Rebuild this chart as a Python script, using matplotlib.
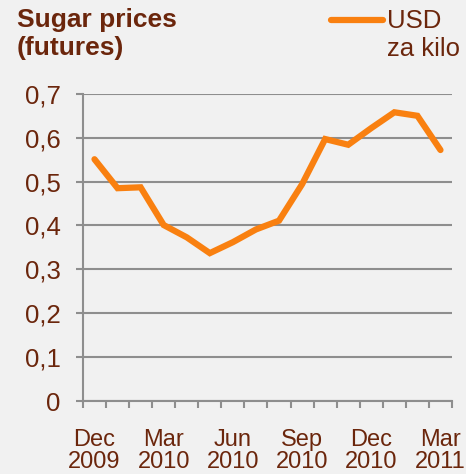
import numpy as np
import matplotlib
matplotlib.use("Agg")
import matplotlib.pyplot as plt
from matplotlib.ticker import FixedLocator, FuncFormatter

# monthly sugar futures, USD per kilo, Dec 2009 .. Mar 2011
months = ["Dec\n2009", "Jan", "Feb", "Mar\n2010", "Apr", "May", "Jun\n2010", "Jul",
          "Aug", "Sep\n2010", "Oct", "Nov", "Dec\n2010", "Jan", "Feb", "Mar\n2011"]
prices = [0.551, 0.485, 0.487, 0.401, 0.373, 0.337, 0.362, 0.391,
          0.411, 0.494, 0.597, 0.584, 0.622, 0.658, 0.650, 0.572]
y_ticks = [0, 0.1, 0.2, 0.3, 0.4, 0.5, 0.6, 0.7]

txt = "#6B260C"
grey = "#8E8E8E"
orange = "#F98010"

plt.rcParams["font.family"] = ["Liberation Sans", "DejaVu Sans"]

fig = plt.figure(figsize=(4.66, 4.74), dpi=100)
fig.patch.set_facecolor("#F1F1F1")
ax = fig.add_axes([0.178, 0.154, 0.792, 0.648])
ax.set_facecolor("none")

x = np.arange(len(prices))
ax.plot(x, prices, color=orange, lw=4.5, solid_joinstyle="miter", solid_capstyle="round",
        zorder=3, label="USD\nza kilo")

ax.set_xlim(-0.5, len(prices) - 0.5)
ax.set_ylim(0, 0.7)

ax.set_yticks(y_ticks)
ax.yaxis.set_major_formatter(FuncFormatter(lambda v, p: "0" if v == 0 else ("%.1f" % v).replace(".", ",")))
ax.grid(axis="y", color=grey, lw=1.5, zorder=1)
ax.tick_params(axis="y", length=5, width=1.5, color=grey, labelcolor=txt, labelsize=18.5, pad=11)

# x labels every 3 months, tick marks at category edges
lab_pos = [i for i in x if "\n" in months[i]]
ax.set_xticks(lab_pos)
ax.set_xticklabels([months[i] for i in lab_pos], linespacing=1.02)
ax.xaxis.set_minor_locator(FixedLocator(np.arange(-0.5, len(prices), 1)))
ax.tick_params(axis="x", which="major", length=0, labelcolor=txt, labelsize=17, pad=20)
ax.tick_params(axis="x", which="minor", length=5, width=1.5, color=grey)

for s in ["top", "right"]:
    ax.spines[s].set_visible(False)
for s in ["left", "bottom"]:
    ax.spines[s].set_color(grey)
    ax.spines[s].set_linewidth(1.5)

fig.text(0.036, 0.984, "Sugar prices\n(futures)", color=txt, fontsize=19, fontweight="bold",
         va="top", ha="left", linespacing=1.24)

# legend drawn by hand to match the layout
fig.add_artist(plt.Line2D([0.71, 0.821], [0.958, 0.958], color=orange, lw=4.5,
                          solid_capstyle="round", transform=fig.transFigure))
fig.text(0.831, 0.982, "USD\nza kilo", color=txt, fontsize=18.5, va="top", ha="left", linespacing=1.24)

fig.savefig("out.png", dpi=100, facecolor=fig.get_facecolor())
